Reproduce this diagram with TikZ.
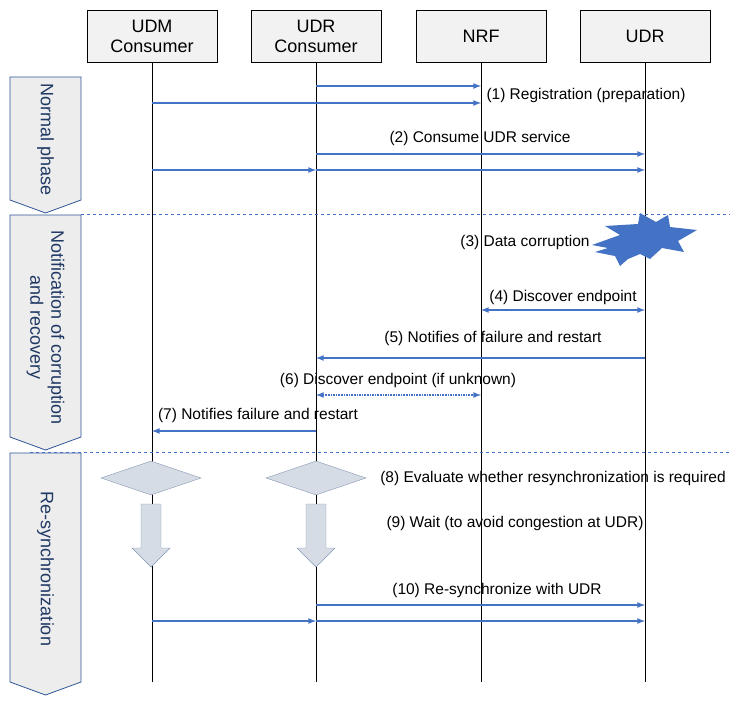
\documentclass[tikz,border=0pt]{standalone}
\usepackage{fontspec}
\setmainfont{Liberation Sans}
\usetikzlibrary{shapes.symbols,shapes.geometric}
\definecolor{msgblue}{HTML}{4472C4}
\definecolor{phaseblue}{HTML}{2F5597}
\definecolor{phasetext}{HTML}{1F3864}
\definecolor{shapefill}{HTML}{D6DCE5}
\definecolor{shapeline}{HTML}{8497B0}
\begin{document}
\begin{tikzpicture}[x=1pt,y=-1pt,
  entity/.style={draw,fill=black!5,minimum width=130pt,minimum height=52pt,align=center,font=\fontsize{18}{20}\selectfont,inner sep=0pt},
  msg/.style={msgblue,line width=1.6pt,-latex},
  lbl/.style={font=\fontsize{15.5}{17}\selectfont,inner sep=1pt},
  decision/.style={diamond,draw=shapeline,fill=shapefill,minimum width=100pt,minimum height=34pt,aspect=3,inner sep=0pt},
  waitarrow/.style={draw=shapeline,fill=shapefill},
  sep/.style={msgblue,dashed},
  phase/.style={draw=phaseblue,fill=black!7,line width=0.8pt}]
\useasboundingbox (0,0) rectangle (741,709);

\node[entity] (udm) at (152,36) {UDM\\Consumer};
\node[entity] (udrc) at (316,36) {UDR\\Consumer};
\node[entity] (nrf) at (481,36) {NRF};
\node[entity] (udr) at (645,36) {UDR};

% lifelines
\foreach \n in {udm,udrc,nrf,udr}
  \draw[line width=0.9pt] (\n.south) -- (\n.south |- 0,682);

% phases
\foreach \top/\bot/\txt in {77/213/Normal phase,215/450/Notification of corruption\\and recovery,453/695/Re-synchronization}{
  \draw[phase] (10,\top) -- (81,\top) -- (81,\bot-13) -- (45.5,\bot) -- (10,\bot-13) -- cycle;
  \node[rotate=-90,text=phasetext,font=\fontsize{18}{21}\selectfont,align=center] at (45.5,{(\top+\bot-10)/2}) {\txt};
}
\draw[sep] (81,214) -- (730,214);
\draw[sep] (30,452) -- (730,452);

% normal phase
\draw[msg] (udrc |- 0,86) -- (nrf |- 0,86);
\draw[msg] (udm |- 0,103) -- (nrf |- 0,103);
\node[lbl] at (586,95) {(1) Registration (preparation)};
\node[lbl] at (480,138) {(2) Consume UDR service};
\draw[msg] (udrc |- 0,154) -- (udr |- 0,154);
\draw[msg] (udm |- 0,170) -- (udrc |- 0,170);
\draw[msg] (udrc |- 0,170) -- (udr |- 0,170);

% notification
\fill[msgblue] (592,245) -- (620,235) -- (605,226) -- (638,224) -- (640,213) -- (656,222) -- (668,215) -- (670,227) -- (697,230) -- (678,241) -- (684,252) -- (662,248) -- (650,259) -- (640,254) -- (628,259) -- (620,266) -- (615,256) -- (595,252) -- (608,248) -- cycle;
\node[lbl] at (525,242) {(3) Data corruption};
\node[lbl] at (563,297) {(4) Discover endpoint};
\draw[msg,latex-latex] (nrf |- 0,310) -- (udr |- 0,310);
\node[lbl] at (493,338) {(5) Notifies of failure and restart};
\draw[msg] (udr |- 0,358) -- (udrc |- 0,358);
\node[lbl] at (398,380) {(6) Discover endpoint (if unknown)};
\draw[msg,latex-latex,densely dotted] (udrc |- 0,395) -- (nrf |- 0,395);
\node[lbl] at (258,415) {(7) Notifies failure and restart};
\draw[msg] (udrc |- 0,431) -- (udm |- 0,431);

% resync
\node[decision] (d1) at (151,478) {};
\node[decision] (d2) at (316,478) {};
\node[lbl] at (553,478) {(8) Evaluate whether resynchronization is required};
\foreach \x in {151,316}
  \draw[waitarrow] (\x-10,504) -- (\x+10,504) -- (\x+10,548) -- (\x+19,548) -- (\x,567) -- (\x-19,548) -- (\x-10,548) -- cycle;
\node[lbl] at (515,523) {(9) Wait (to avoid congestion at UDR)};
\node[lbl] at (497,590) {(10) Re-synchronize with UDR};
\draw[msg] (udrc |- 0,605) -- (udr |- 0,605);
\draw[msg] (udm |- 0,621) -- (udrc |- 0,621);
\draw[msg] (udrc |- 0,621) -- (udr |- 0,621);
\end{tikzpicture}
\end{document}
